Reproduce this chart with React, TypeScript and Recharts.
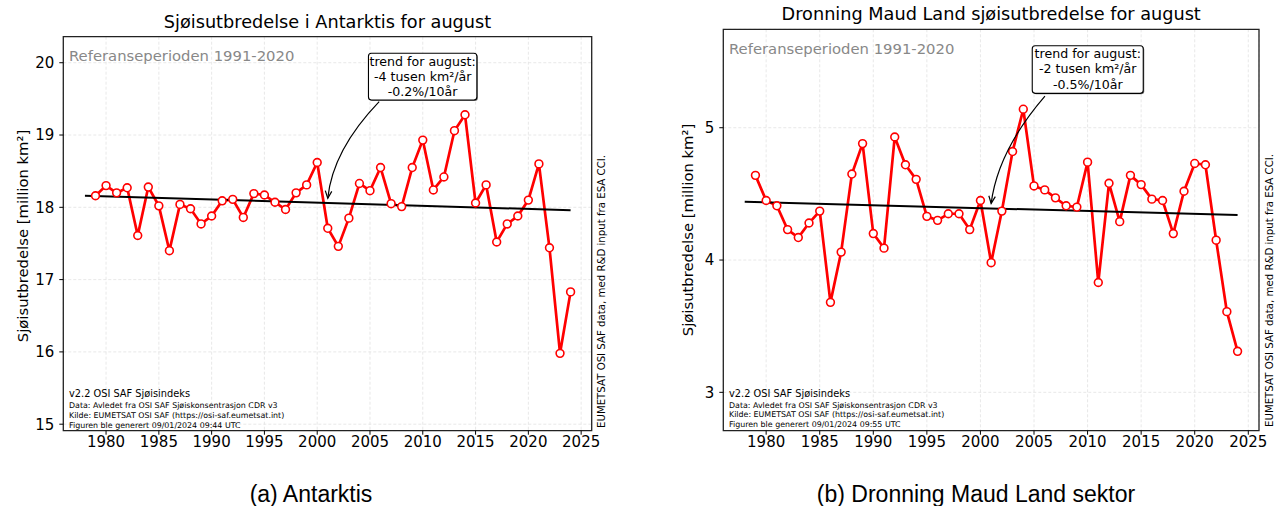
import React from "react";
import { LineChart, Line, XAxis, YAxis, CartesianGrid, ReferenceArea, ReferenceDot } from "recharts";

// August sea ice extent per year (million km2)
const YEARS = [
  1979, 1980, 1981, 1982, 1983, 1984, 1985, 1986, 1987, 1988,
  1989, 1990, 1991, 1992, 1993, 1994, 1995, 1996, 1997, 1998,
  1999, 2000, 2001, 2002, 2003, 2004, 2005, 2006, 2007, 2008,
  2009, 2010, 2011, 2012, 2013, 2014, 2015, 2016, 2017, 2018,
  2019, 2020, 2021, 2022, 2023, 2024,
];
const ANTARKTIS_EXTENT = [
  18.16, 18.3, 18.2, 18.27, 17.61, 18.28, 18.02, 17.4, 18.04, 17.98,
  17.77, 17.88, 18.09, 18.11, 17.86, 18.19, 18.17, 18.07, 17.97, 18.2,
  18.31, 18.62, 17.71, 17.46, 17.85, 18.33, 18.23, 18.55, 18.05, 18.01,
  18.55, 18.93, 18.24, 18.42, 19.06, 19.28, 18.06, 18.31, 17.52, 17.77,
  17.88, 18.1, 18.6, 17.44, 15.98, 16.83,
];
const DML_EXTENT = [
  4.64, 4.45, 4.41, 4.23, 4.17, 4.28, 4.37, 3.68, 4.06, 4.65,
  4.88, 4.2, 4.09, 4.93, 4.72, 4.61, 4.33, 4.3, 4.35, 4.35,
  4.23, 4.45, 3.98, 4.37, 4.82, 5.14, 4.56, 4.53, 4.47, 4.41,
  4.4, 4.74, 3.83, 4.58, 4.29, 4.64, 4.57, 4.46, 4.45, 4.2,
  4.52, 4.73, 4.72, 4.15, 3.61, 3.31,
];

// linear trend lines (end points)
const TREND_YEARS = [1978, 2024];
const ANTARKTIS_TREND = [18.16, 17.96];
const DML_TREND = [4.44, 4.34];

// where the trend arrow points
const ARROW_YEAR = 2001;
const ANTARKTIS_ARROW_VALUE = 18.06;
const DML_ARROW_VALUE = 4.39;

const X_TICKS = [1980, 1985, 1990, 1995, 2000, 2005, 2010, 2015, 2020, 2025];
const ANTARKTIS_Y_TICKS = [15, 16, 17, 18, 19, 20];
const DML_Y_TICKS = [3, 4, 5];

const ANTARKTIS_NOTE = ["trend for august:", "-4 tusen km²/år", "-0.2%/10år"];
const DML_NOTE = ["trend for august:", "-2 tusen km²/år", "-0.5%/10år"];

const FONT = "'DejaVu Sans', sans-serif";

const toRows = (xs: number[], ys: number[]) => xs.map((year, i) => ({ year, value: ys[i] }));

interface Geo { dx: number; dy: number; w?: number; h?: number }

// box + curved arrow drawn relative to the arrow's target point
function callout(lines: string[], box: Geo, start: Geo, ctrl: Geo, gap: number) {
  return (props: any) => {
    const { cx, cy } = props;
    const tx = cx;
    const ty = cy - gap;
    const qx = cx + ctrl.dx;
    const qy = cy + ctrl.dy;
    const ang = Math.atan2(ty - qy, tx - qx);
    const len = 8;
    const spread = 0.42;
    const h1x = tx - len * Math.cos(ang - spread);
    const h1y = ty - len * Math.sin(ang - spread);
    const h2x = tx - len * Math.cos(ang + spread);
    const h2y = ty - len * Math.sin(ang + spread);
    const bx = cx + box.dx;
    const by = cy + box.dy;
    return (
      <g>
        <path d={`M${cx + start.dx},${cy + start.dy} Q${qx},${qy} ${tx},${ty}`} fill="none" stroke="#000" strokeWidth={1.2} />
        <path d={`M${h1x},${h1y} L${tx},${ty} L${h2x},${h2y}`} fill="none" stroke="#000" strokeWidth={1.2} />
        <rect x={bx + 1} y={by + 1} width={box.w} height={box.h} rx={3} fill="#777" />
        <rect x={bx} y={by} width={box.w} height={box.h} rx={3} fill="#fff" stroke="#000" strokeWidth={1.1} />
        {lines.map((t, i) => (
          <text key={i} x={bx + (box.w as number) / 2} y={by + 12.3 + i * 15.3} textAnchor="middle" fontSize={12.6} fontFamily={FONT} fill="#000">
            {t}
          </text>
        ))}
      </g>
    );
  };
}

interface PanelProps {
  left: number;
  width: number;
  margin: { top: number; right: number; bottom: number; left: number };
  xDomain: [number, number];
  yDomain: [number, number];
  yTicks: number[];
  values: number[];
  trend: number[];
  arrowValue: number;
  shape: (p: any) => React.ReactElement;
}

function Panel({ left, width, margin, xDomain, yDomain, yTicks, values, trend, arrowValue, shape }: PanelProps) {
  const tickStyle = { fontSize: 15, fontFamily: FONT, fill: "#000" };
  return (
    <div style={{ position: "absolute", left, top: 0 }}>
      <LineChart width={width} height={506} margin={margin} data={toRows(YEARS, values)}>
        <CartesianGrid stroke="#e2e2e2" strokeDasharray="3 2" strokeWidth={0.8} />
        <XAxis
          dataKey="year"
          type="number"
          domain={xDomain}
          ticks={X_TICKS}
          allowDataOverflow
          height={30}
          axisLine={false}
          tickSize={4}
          tickLine={{ stroke: "#000" }}
          tick={tickStyle}
          interval={0}
        />
        <YAxis
          type="number"
          domain={yDomain}
          ticks={yTicks}
          allowDataOverflow
          width={50}
          axisLine={false}
          tickSize={4}
          tickMargin={5}
          tickLine={{ stroke: "#000" }}
          tick={tickStyle}
          interval={0}
        />
        <ReferenceArea x1={xDomain[0]} x2={xDomain[1]} y1={yDomain[0]} y2={yDomain[1]} fill="none" stroke="#222" strokeWidth={1.3} />
        <Line
          type="linear"
          dataKey="value"
          stroke="#ff0000"
          strokeWidth={2.7}
          dot={{ r: 3.9, fill: "#fff", stroke: "#ff0000", strokeWidth: 1.6 }}
          isAnimationActive={false}
        />
        <Line
          type="linear"
          data={toRows(TREND_YEARS, trend)}
          dataKey="value"
          stroke="#000"
          strokeWidth={2}
          dot={false}
          isAnimationActive={false}
        />
        <ReferenceDot x={ARROW_YEAR} y={arrowValue} r={0} shape={shape} />
      </LineChart>
    </div>
  );
}

function InfoBlock({ x, y, stamp }: { x: number; y: number; stamp: string }) {
  return (
    <g fontFamily={FONT} fill="#000">
      <text x={x} y={y} fontSize={9.8}>v2.2 OSI SAF Sjøisindeks</text>
      <text x={x} y={y + 11} fontSize={7.9}>Data: Avledet fra OSI SAF Sjøiskonsentrasjon CDR v3</text>
      <text x={x} y={y + 20.7} fontSize={7.9}>Kilde: EUMETSAT OSI SAF (https://osi-saf.eumetsat.int)</text>
      <text x={x} y={y + 30.6} fontSize={7.9}>{`Figuren ble generert ${stamp}`}</text>
    </g>
  );
}

export default function App() {
  return (
    <div style={{ position: "absolute", left: 0, top: 0, width: 1277, height: 506, background: "#fff" }}>
      <Panel
        left={0}
        width={620}
        margin={{ top: 36.7, right: 28.3, bottom: 45.3, left: 13.3 }}
        xDomain={[1975.95, 2026.0]}
        yDomain={[14.91, 20.36]}
        yTicks={ANTARKTIS_Y_TICKS}
        values={ANTARKTIS_EXTENT}
        trend={ANTARKTIS_TREND}
        arrowValue={ANTARKTIS_ARROW_VALUE}
        shape={callout(ANTARKTIS_NOTE, { dx: 40.7, dy: -149.7, w: 108.4, h: 46.7 }, { dx: 51.4, dy: -101.3 }, { dx: 5, dy: -53 }, 4.7)}
      />
      <Panel
        left={660}
        width={617}
        margin={{ top: 29.3, right: 18, bottom: 45.3, left: 13.3 }}
        xDomain={[1976.0, 2026.0]}
        yDomain={[2.71, 5.744]}
        yTicks={DML_Y_TICKS}
        values={DML_EXTENT}
        trend={DML_TREND}
        arrowValue={DML_ARROW_VALUE}
        shape={callout(DML_NOTE, { dx: 41.1, dy: -162.7, w: 111, h: 47.6 }, { dx: 53.8, dy: -112.4 }, { dx: 6.8, dy: -58 }, 5)}
      />
      <svg width={1277} height={506} style={{ position: "absolute", left: 0, top: 0, pointerEvents: "none" }}>
        <text x={327.5} y={28} textAnchor="middle" fontSize={17.7} fontFamily={FONT} fill="#000">
          Sjøisutbredelse i Antarktis for august
        </text>
        <text x={991.2} y={20} textAnchor="middle" fontSize={17.7} fontFamily={FONT} fill="#000">
          Dronning Maud Land sjøisutbredelse for august
        </text>
        <text x={69} y={61} fontSize={14.8} fontFamily={FONT} fill="#888">Referanseperioden 1991-2020</text>
        <text x={729} y={54} fontSize={14.8} fontFamily={FONT} fill="#888">Referanseperioden 1991-2020</text>
        <InfoBlock x={69} y={397} stamp="09/01/2024 09:44 UTC" />
        <InfoBlock x={729} y={396.5} stamp="09/01/2024 09:55 UTC" />
        <text transform="translate(22,236) rotate(-90)" textAnchor="middle" dominantBaseline="central" fontSize={14.8} fontFamily={FONT} fill="#000">
          Sjøisutbredelse [million km²]
        </text>
        <text transform="translate(687,230) rotate(-90)" textAnchor="middle" dominantBaseline="central" fontSize={14.8} fontFamily={FONT} fill="#000">
          Sjøisutbredelse [million km²]
        </text>
        <text transform="translate(601,428) rotate(-90)" dominantBaseline="central" fontSize={10.2} fontFamily={FONT} fill="#000">
          EUMETSAT OSI SAF data, med R&amp;D input fra ESA CCI.
        </text>
        <text transform="translate(1269,427) rotate(-90)" dominantBaseline="central" fontSize={10.2} fontFamily={FONT} fill="#000">
          EUMETSAT OSI SAF data, med R&amp;D input fra ESA CCI.
        </text>
        <text x={311} y={502} textAnchor="middle" fontSize={23} fontFamily="'Liberation Sans', Arial, sans-serif" fill="#000">
          (a) Antarktis
        </text>
        <text x={976} y={502} textAnchor="middle" fontSize={23} fontFamily="'Liberation Sans', Arial, sans-serif" fill="#000">
          (b) Dronning Maud Land sektor
        </text>
      </svg>
    </div>
  );
}
